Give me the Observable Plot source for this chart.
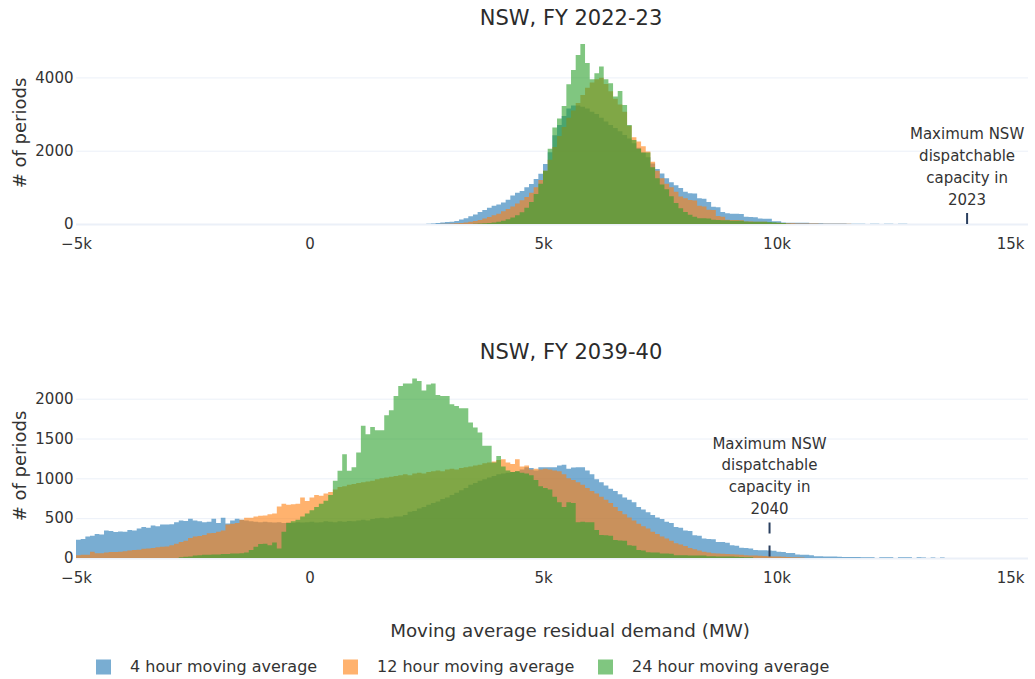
<!DOCTYPE html>
<html>
<head>
<meta charset="utf-8">
<script src="https://cdn.jsdelivr.net/npm/d3@7"></script>
<script src="https://cdn.jsdelivr.net/npm/@observablehq/plot@0.6"></script>
<style>
  html, body { margin: 0; padding: 0; background: #fff; }
  #root { position: relative; width: 1035px; height: 679px; font-family: 'DejaVu Sans', sans-serif; color: #333; overflow: hidden; }
  .abs { position: absolute; white-space: nowrap; }
  .title { font-size: 21px; line-height: 21px; transform: translate(-50%, -50%); color: #2b2b2b; }
  .ylab { font-size: 18px; line-height: 18px; transform: translate(-50%, -50%) rotate(-90deg); }
  .xlab { font-size: 18.3px; line-height: 18px; transform: translate(-50%, -50%); }
  .leg { font-size: 16px; line-height: 16px; transform: translateY(-50%); }
  .sw { position: absolute; width: 15px; height: 15px; transform: translateY(-50%); }
</style>
</head>
<body>
<div id="root"></div>
<script>
// ---------------- data (counts per 100 MW bin) ----------------
const BIN = 100;
const seriesNames = ["4 hour moving average", "12 hour moving average", "24 hour moving average"];
const seriesColors = ["#1f77b4", "#ff7f0e", "#2ca02c"];
const xTicks = [-5000, 0, 5000, 10000, 15000];

// FY 2022-23
const fy23Title = "NSW, FY 2022-23";
const fy23YTicks = [0, 2000, 4000];
const fy23CapMW = 14070;
const fy23CapText = "Maximum NSW\ndispatchable\ncapacity in\n2023";
const fy23_4h_start = 2500;
const fy23_4h = [10,15,25,40,55,60,80,120,160,210,
  260,330,380,440,500,530,590,660,780,850,
  900,1000,1090,1230,1370,1640,1960,2420,2700,2950,
  3150,3230,3230,3200,3150,3060,3000,2900,2800,2700,
  2620,2530,2430,2330,2200,2080,1950,1820,1650,1500,
  1380,1250,1140,1060,980,880,840,830,700,690,
  600,470,460,330,290,282,280,275,200,190,
  185,150,146,140,75,73,40,36,36,35,
  35,34,20,18,18,16,15,15,12,12,
  10,10,8,8,0,8,8,0,7,7,
  0,6,6];
const fy23_12h_start = 2800;
const fy23_12h = [8,10,15,20,30,40,60,80,110,150,
  190,240,280,350,410,480,560,650,740,850,
  1000,1200,1450,1750,2100,2400,2650,2900,3100,3300,
  3520,3720,3860,3950,3990,3820,3620,3420,3260,3060,
  2680,2370,2250,2120,1980,1700,1450,1250,1100,1000,
  880,750,700,655,640,500,480,390,380,220,
  200,115,110,108,105,70,65,62,60,58,
  38,36,34,30,20,18,15,14,12,12,
  12,10,10,10,9,9,8,8];
const fy23_24h_start = 3500;
const fy23_24h = [10,15,20,30,40,60,90,130,180,240,
  320,440,600,820,1100,1450,2050,2630,2880,3220,
  3810,4200,4610,4910,4390,3950,4110,4300,3950,3840,
  3480,3630,3250,2700,2290,2050,1950,1950,1550,1250,
  1080,950,760,570,430,330,250,200,160,155,
  150,115,110,105,100,92,90,88,65,64,
  62,60,58,55,50,36,30,10];

// FY 2039-40
const fy40Title = "NSW, FY 2039-40";
const fy40YTicks = [0, 500, 1000, 1500, 2000];
const fy40CapMW = 9840;
const fy40CapText = "Maximum NSW\ndispatchable\ncapacity in\n2040";
const fy40_4h_start = -5000;
const fy40_4h = [229,240,271,280,300,295,346,340,325,333,
  330,350,345,371,388,380,408,400,421,420,
  425,450,471,465,492,471,460,450,455,492,
  438,504,433,471,492,480,470,460,455,450,
  455,450,445,450,440,445,440,450,445,450,
  455,445,450,460,455,450,460,455,465,460,
  470,480,470,490,500,505,500,510,520,520,
  540,580,590,620,640,670,690,710,740,760,
  790,820,850,880,920,940,970,990,1010,1030,
  1050,1060,1070,1080,1090,1110,1140,1130,1100,1140,
  1140,1140,1140,1160,1170,1120,1135,1140,1140,1100,
  1050,990,950,910,870,840,800,760,730,700,
  640,610,575,540,510,490,455,440,390,380,
  345,340,285,280,245,240,235,200,200,190,
  160,155,130,125,120,100,98,96,95,90,
  80,75,63,62,45,42,40,35,22,21,
  20,20,18,16,12,12,11,11,10,10,
  10,0,10,9,9,0,8,8,8,0,
  8,7,0,7,0,6];
const fy40_12h_start = -5000;
const fy40_12h = [35,40,40,80,60,60,70,75,75,80,
  85,95,100,105,115,120,125,135,140,145,
  160,180,200,215,250,270,275,290,310,315,
  330,345,420,430,440,480,505,505,520,530,
  535,550,560,645,680,670,675,680,760,715,
  760,790,780,810,830,860,890,900,920,930,
  940,950,960,970,990,1000,1010,1020,1030,1040,
  1050,1040,1060,1070,1060,1080,1090,1100,1090,1110,
  1120,1110,1130,1140,1150,1160,1170,1190,1200,1210,
  1230,1240,1200,1180,1240,1150,1160,1110,1120,1110,
  1120,1110,1100,1090,1050,1000,980,950,920,880,
  840,810,770,730,690,640,590,550,510,470,
  430,400,370,330,300,270,245,215,185,170,
  150,125,110,95,80,70,60,55,52,50,
  48,45,40,35,32,30,28,25,22,20,
  18,15,12,10,8,6];
const fy40_24h_start = -2800;
const fy40_24h = [10,15,20,30,35,40,40,45,45,50,
  50,55,55,60,70,100,140,175,180,160,
  195,120,330,440,460,480,520,560,600,640,
  680,720,790,971,1096,1304,1096,1138,1325,1659,
  1554,1646,1604,1604,1792,1855,2034,2159,2192,2192,
  2254,2221,2104,2179,2192,2046,2034,2034,1929,1909,
  1880,1880,1700,1638,1575,1409,1409,1200,1280,1150,
  1100,1080,1090,1070,1060,1040,980,900,880,860,
  770,700,640,700,690,450,455,450,450,350,
  290,285,280,225,220,215,160,155,100,95,
  72,70,68,55,55,54,35,33,33,32,
  32,30,30,22,21,20,20,18,18,16,
  12,10,8];

const xTitle = "Moving average residual demand (MW)";
const yTitle = "# of periods";

// ---------------- helpers ----------------
function steps(start, counts) {
  const d = counts.map((c, i) => ({x: start + i * BIN, y: c}));
  d.push({x: start + counts.length * BIN, y: 0});
  return d;
}
const fmtK = d => d === 0 ? "0" : (d < 0 ? "\u2212" : "") + Math.abs(d) / 1000 + "k";

function panel(opts) {
  const marks = [
    Plot.ruleY(opts.yTicks.filter(t => t > 0), {stroke: "#ebf0f8", strokeWidth: 1}),
    Plot.ruleY([0], {stroke: "#ebf0f8", strokeWidth: 2})
  ];
  opts.series.forEach((s, i) => {
    marks.push(Plot.areaY(steps(s[0], s[1]), {x: "x", y: "y", curve: "step-after", fill: seriesColors[i], fillOpacity: 0.6}));
  });
  marks.push(Plot.ruleX([{x: opts.cap, top: opts.capTop}], {x: "x", y1: "top", y2: () => 0, stroke: "#2a3f5f", strokeWidth: 2, strokeDasharray: "11,12"}));
  marks.push(Plot.text([{x: opts.cap, y: opts.capTop, t: opts.capText}], {x: "x", y: "y", text: "t", lineAnchor: "bottom", lineHeight: 1.45, fontSize: 15, fill: "#333", dy: -9}));
  return Plot.plot({
    width: 1035, height: 261,
    marginLeft: 76, marginRight: 7, marginTop: 38, marginBottom: 37,
    style: {fontFamily: "'DejaVu Sans', sans-serif", fontSize: "15px", color: "#333", background: "transparent", overflow: "visible"},
    x: {domain: [-5000, 15385], ticks: xTicks, tickFormat: fmtK, tickSize: 0, tickPadding: 14, label: null},
    y: {domain: opts.yDomain, ticks: opts.yTicks, tickFormat: d => String(d), tickSize: 0, tickPadding: 3, label: null},
    marks
  });
}

// ---------------- layout ----------------
const root = document.getElementById("root");
function addDiv(cls, text, left, top) {
  const el = document.createElement("div");
  el.className = "abs " + cls;
  el.textContent = text;
  el.style.left = left + "px";
  el.style.top = top + "px";
  root.appendChild(el);
  return el;
}

const p1 = panel({
  series: [[fy23_4h_start, fy23_4h], [fy23_12h_start, fy23_12h], [fy23_24h_start, fy23_24h]],
  yDomain: [0, 5075], yTicks: fy23YTicks, cap: fy23CapMW, capTop: 300, capText: fy23CapText
});
p1.style.position = "absolute"; p1.style.left = "0px"; p1.style.top = "0px";
root.appendChild(p1);

const p2 = panel({
  series: [[fy40_4h_start, fy40_4h], [fy40_12h_start, fy40_12h], [fy40_24h_start, fy40_24h]],
  yDomain: [0, 2335], yTicks: fy40YTicks, cap: fy40CapMW, capTop: 446, capText: fy40CapText
});
p2.style.position = "absolute"; p2.style.left = "0px"; p2.style.top = "334px";
root.appendChild(p2);

addDiv("title", fy23Title, 571, 18);
addDiv("title", fy40Title, 571, 352);
addDiv("ylab", yTitle, 20, 133);
addDiv("ylab", yTitle, 20, 466);
addDiv("xlab", xTitle, 570, 631);

const legX = [96, 343, 598];
seriesNames.forEach((n, i) => {
  const sw = document.createElement("div");
  sw.className = "sw";
  sw.style.left = legX[i] + "px";
  sw.style.top = "667px";
  sw.style.background = seriesColors[i];
  sw.style.opacity = 0.6;
  root.appendChild(sw);
  addDiv("leg", n, legX[i] + 34, 667);
});
</script>
</body>
</html>
